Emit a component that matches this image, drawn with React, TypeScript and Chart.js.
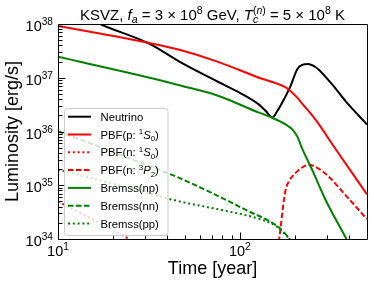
import React, { useEffect, useRef } from 'react';
import { Chart, registerables } from 'chart.js';

Chart.register(...registerables);

const FONT = '"Liberation Sans", Arial, Helvetica, sans-serif';

// ---- text ----
const TITLE = 'KSVZ, *f*_{*a*} = 3 × 10^{8} GeV, *T*_{*c*}^{(*n*)} = 5 × 10^{8} K';
const X_TITLE = 'Time [year]';
const Y_TITLE = 'Luminosity [erg/s]';

// ---- axes ----
const X_MIN = 10;
const X_MAX = 500;
const Y_MIN = 1e34;
const Y_MAX = 1e38;
const X_MAJOR_TICKS = [10, 100];
const X_TICK_LABELS = ['10^{1}', '10^{2}'];
const X_MINOR_TICKS = [20, 30, 40, 50, 60, 70, 80, 90, 200, 300, 400];
const Y_MAJOR_TICKS = [1e34, 1e35, 1e36, 1e37, 1e38];
const Y_TICK_LABELS = ['10^{34}', '10^{35}', '10^{36}', '10^{37}', '10^{38}'];
const Y_MINOR_MANTISSAS = [2, 3, 4, 5, 6, 7, 8, 9];

// ---- series: time [year] and log10 luminosity [erg/s] ----
const SERIES_LABELS = [
  'Neutrino',
  'PBF(p: ^{1}*S*_{0})',
  'PBF(n: ^{1}*S*_{0})',
  'PBF(n: ^{3}*P*_{2})',
  'Bremss(np)',
  'Bremss(nn)',
  'Bremss(pp)',
];

const NEUTRINO_T = [10, 17.3, 31.9, 46.5, 75.2, 100, 127.5, 138.8, 150.8, 160.6, 174.8, 190.2, 206.7, 220, 237.5, 260, 271.6, 321, 380, 500];
const NEUTRINO_LOGL = [38.39, 37.99, 37.63, 37.3, 36.93, 36.72, 36.5, 36.38, 36.26, 36.38, 36.6, 36.85, 37.16, 37.24, 37.255, 37.2, 37.15, 36.88, 36.57, 36.13];

const PBF_P_T = [10, 31.9, 46.5, 75.2, 127.5, 178.6, 190.2, 206.7, 220, 260.6, 335, 500];
const PBF_P_LOGL = [37.963, 37.645, 37.52, 37.3, 37.0, 36.82, 36.75, 36.63, 36.52, 36.22, 35.68, 34.83];

const PBF_N1S0_T = [10, 15, 20, 24.2, 28];
const PBF_N1S0_LOGL = [34.7, 34.39, 34.17, 34.01, 33.85];

const PBF_N3P2_T = [158, 164.2, 167, 172, 178.6, 186, 202.6, 220, 239.4, 265, 308, 380, 500];
const PBF_N3P2_LOGL = [33.5, 33.98, 34.17, 34.55, 34.92, 35.07, 35.23, 35.33, 35.38, 35.33, 35.16, 34.82, 34.37];

const BREMSS_NP_T = [10, 31.9, 46.5, 75.2, 127.5, 150.8, 178.6, 194.1, 206.7, 220.1, 249.5, 295.6, 388, 430];
const BREMSS_NP_LOGL = [37.389, 37.0, 36.86, 36.67, 36.35, 36.256, 36.131, 36.04, 35.91, 35.68, 35.29, 34.73, 33.98, 33.68];

const BREMSS_NN_T = [10, 20, 30, 44.7, 70.8, 107.9, 157.4, 175, 186.2, 200];
const BREMSS_NN_LOGL = [36.006, 35.62, 35.39, 35.16, 34.85, 34.54, 34.26, 34.12, 34.01, 33.8];

const BREMSS_PP_T = [10, 20, 30, 46.5, 87.4, 133, 160, 178.6, 190.2, 205];
const BREMSS_PP_LOGL = [35.29, 35.03, 34.87, 34.7, 34.51, 34.355, 34.23, 34.075, 33.98, 33.8];

const SERIES_T = [NEUTRINO_T, PBF_P_T, PBF_N1S0_T, PBF_N3P2_T, BREMSS_NP_T, BREMSS_NN_T, BREMSS_PP_T];
const SERIES_LOGL = [NEUTRINO_LOGL, PBF_P_LOGL, PBF_N1S0_LOGL, PBF_N3P2_LOGL, BREMSS_NP_LOGL, BREMSS_NN_LOGL, BREMSS_PP_LOGL];

// ---- styles ----
const SERIES_COLORS = ['#000000', '#ff0000', '#ff0000', '#ff0000', '#008000', '#008000', '#008000'];
const SERIES_STYLES = ['solid', 'solid', 'dotted', 'dashed', 'solid', 'dashed', 'dotted'];
const LINE_WIDTH = 2;
const dashFor = (s: string): number[] => (s === 'dashed' ? [5.5, 2.5] : s === 'dotted' ? [2, 2.8] : []);

// ---- rich text (super/subscripts, italics) ----
type Pos = 'base' | 'sub' | 'sup';
type Seg = { t: string; it: boolean; pos: Pos; stack: boolean };

function parseRich(s: string): Seg[] {
  const segs: Seg[] = [];
  let buf = '';
  let it = false;
  let pos: Pos = 'base';
  let stackNext = false;
  let lastClosed: Pos | null = null;
  const flush = () => {
    if (buf) {
      segs.push({ t: buf, it, pos, stack: stackNext });
      stackNext = false;
      buf = '';
      lastClosed = null;
    }
  };
  for (let i = 0; i < s.length; i++) {
    const c = s[i];
    if ((c === '^' || c === '_') && s[i + 1] === '{') {
      flush();
      if (c === '^' && lastClosed === 'sub') stackNext = true;
      pos = c === '^' ? 'sup' : 'sub';
      i++;
      continue;
    }
    if (c === '}' && pos !== 'base') {
      flush();
      lastClosed = pos;
      pos = 'base';
      continue;
    }
    if (c === '*') {
      flush();
      it = !it;
      continue;
    }
    buf += c;
  }
  flush();
  return segs;
}

function drawRich(ctx: CanvasRenderingContext2D, s: string, x: number, y: number, size: number, align: 'left' | 'center' | 'right') {
  const segs = parseRich(s);
  const items: { t: string; font: string; x: number; dy: number }[] = [];
  let cx = 0;
  let maxX = 0;
  let subStart = 0;
  let prev: Pos = 'base';
  for (const sg of segs) {
    const fs = sg.pos === 'base' ? size : size * 0.7;
    const font = `${sg.it ? 'italic ' : ''}${fs}px ${FONT}`;
    ctx.font = font;
    const w = ctx.measureText(sg.t).width;
    if (sg.pos === 'base') cx = maxX;
    if (sg.pos === 'sub' && prev !== 'sub') subStart = cx;
    if (sg.stack) cx = subStart;
    const dy = sg.pos === 'sub' ? size * 0.22 : sg.pos === 'sup' ? -size * 0.4 : 0;
    items.push({ t: sg.t, font, x: cx, dy });
    cx += w;
    maxX = Math.max(maxX, cx);
    prev = sg.pos;
  }
  const x0 = align === 'center' ? x - maxX / 2 : align === 'right' ? x - maxX : x;
  ctx.textAlign = 'left';
  ctx.textBaseline = 'alphabetic';
  ctx.fillStyle = '#000';
  for (const it of items) {
    ctx.font = it.font;
    ctx.fillText(it.t, x0 + it.x, y + it.dy);
  }
}

const decorPlugin = {
  id: 'decor',
  afterDraw(chart: any) {
    const { ctx, chartArea: a, scales } = chart;
    const xs = scales.x;
    const ys = scales.y;
    ctx.save();
    ctx.strokeStyle = '#000';
    ctx.lineWidth = 1;
    ctx.setLineDash([]);

    const x1 = Math.floor(a.left) + 0.5;
    const y1 = Math.floor(a.top) + 0.5;
    const x2 = Math.floor(a.right) + 0.5;
    const y2 = Math.floor(a.bottom) + 0.5;

    // ticks (inward)
    const vTick = (v: number, len: number) => {
      const px = Math.round(xs.getPixelForValue(v)) + 0.5;
      ctx.beginPath();
      ctx.moveTo(px, y2);
      ctx.lineTo(px, y2 - len);
      ctx.stroke();
    };
    const hTick = (v: number, len: number) => {
      const py = Math.round(ys.getPixelForValue(v)) + 0.5;
      ctx.beginPath();
      ctx.moveTo(x1, py);
      ctx.lineTo(x1 + len, py);
      ctx.stroke();
    };
    X_MAJOR_TICKS.forEach((v) => vTick(v, 7));
    X_MINOR_TICKS.forEach((v) => vTick(v, 4));
    Y_MAJOR_TICKS.forEach((v) => hTick(v, 7));
    Y_MAJOR_TICKS.slice(0, -1).forEach((d) => Y_MINOR_MANTISSAS.forEach((m) => hTick(m * d, 4)));

    // frame
    ctx.beginPath();
    ctx.rect(x1, y1, x2 - x1, y2 - y1);
    ctx.stroke();

    // tick labels
    X_MAJOR_TICKS.forEach((v, i) => {
      drawRich(ctx, X_TICK_LABELS[i], xs.getPixelForValue(v), a.bottom + 17, 14.5, 'center');
    });
    Y_MAJOR_TICKS.forEach((v, i) => {
      drawRich(ctx, Y_TICK_LABELS[i], a.left - 5, ys.getPixelForValue(v) + 7, 14.5, 'right');
    });

    // title
    drawRich(ctx, TITLE, (a.left + a.right) / 2, 19.5, 15, 'center');

    // legend
    const lx = a.left + 6.5;
    const ly = a.top + 84.5;
    const lw = 103.5;
    const lh = 127;
    ctx.beginPath();
    ctx.roundRect(lx, ly, lw, lh, 3);
    ctx.fillStyle = 'rgba(255,255,255,0.8)';
    ctx.fill();
    ctx.strokeStyle = '#cccccc';
    ctx.stroke();
    chart.data.datasets.forEach((ds: any, i: number) => {
      const ry = a.top + 92.7 + i * 17.8;
      ctx.beginPath();
      ctx.strokeStyle = ds.borderColor;
      ctx.lineWidth = LINE_WIDTH;
      ctx.setLineDash(ds.borderDash || []);
      ctx.moveTo(a.left + 10, ry);
      ctx.lineTo(a.left + 33, ry);
      ctx.stroke();
      ctx.setLineDash([]);
      drawRich(ctx, ds.label, a.left + 42.5, ry + 4, 11.3, 'left');
    });
    ctx.restore();
  },
};

export default function App() {
  const ref = useRef<HTMLCanvasElement | null>(null);
  useEffect(() => {
    if (!ref.current) return;
    const datasets = SERIES_LABELS.map((label, i) => ({
      label,
      data: SERIES_T[i].map((t, j) => ({ x: t, y: Math.pow(10, SERIES_LOGL[i][j]) })),
      borderColor: SERIES_COLORS[i],
      backgroundColor: SERIES_COLORS[i],
      borderWidth: LINE_WIDTH,
      borderDash: dashFor(SERIES_STYLES[i]),
      borderCapStyle: 'butt',
      pointRadius: 0,
      fill: false,
      cubicInterpolationMode: 'monotone',
      clip: 0,
      order: -i,
    }));
    const chart = new Chart(ref.current, {
      type: 'line',
      data: { datasets } as any,
      options: {
        animation: false,
        responsive: true,
        maintainAspectRatio: false,
        devicePixelRatio: 1,
        parsing: true,
        layout: { padding: { top: 24, right: 7, left: 0, bottom: 0 } },
        plugins: { legend: { display: false }, tooltip: { enabled: false }, title: { display: false } },
        scales: {
          x: {
            type: 'logarithmic',
            min: X_MIN,
            max: X_MAX,
            position: 'bottom',
            grid: { display: false },
            border: { display: false },
            ticks: { display: false },
            title: { display: true, text: X_TITLE, color: '#000', font: { family: FONT, size: 18 }, padding: { top: 0, bottom: 4.5 } },
            afterFit: (s: any) => { s.height = 45; },
          },
          y: {
            type: 'logarithmic',
            min: Y_MIN,
            max: Y_MAX,
            position: 'left',
            grid: { display: false },
            border: { display: false },
            ticks: { display: false },
            title: { display: true, text: Y_TITLE, color: '#000', font: { family: FONT, size: 18 }, padding: { top: 2.7, bottom: 0 } },
            afterFit: (s: any) => { s.width = 58; },
          },
        },
      } as any,
      plugins: [decorPlugin],
    });
    return () => chart.destroy();
  }, []);
  return (
    <div style={{ position: 'fixed', left: 0, top: 0, width: 374, height: 284, background: '#fff' }}>
      <canvas ref={ref} />
    </div>
  );
}
